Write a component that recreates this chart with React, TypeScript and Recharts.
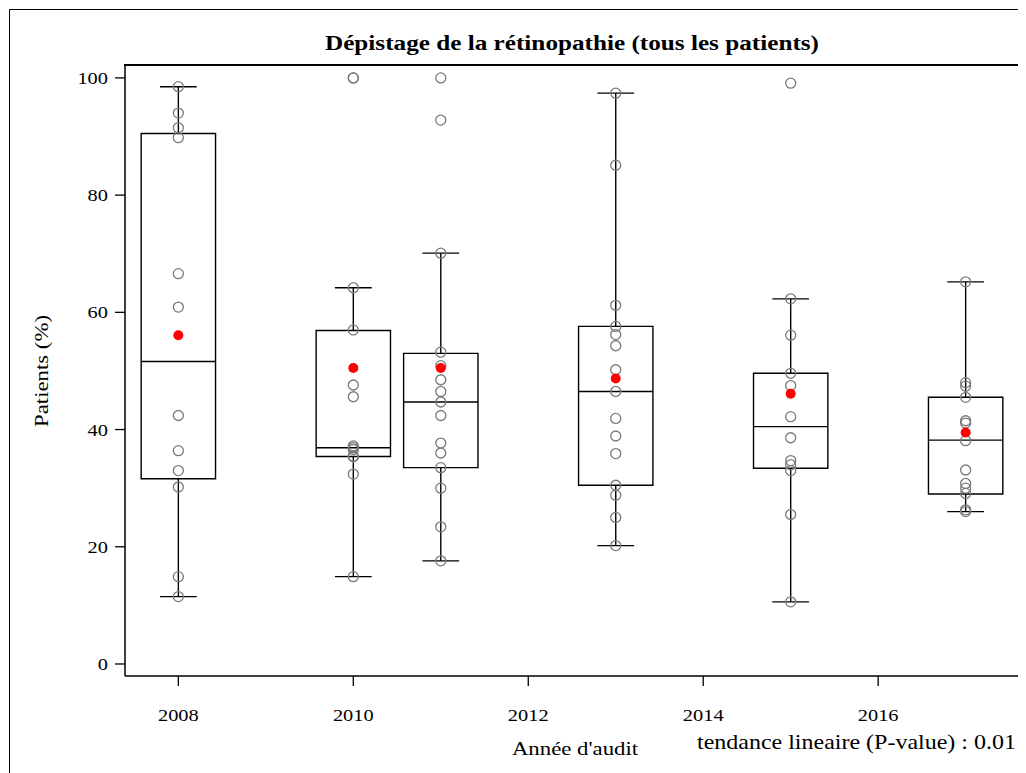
import React from 'react';
import {
  ComposedChart,
  XAxis,
  YAxis,
  Scatter,
  ReferenceArea,
  ReferenceLine,
} from 'recharts';

// Audit years that have a box
const years = [2008, 2010, 2011, 2013, 2015, 2017];

// Individual centre values (% of patients screened) per audit year
const pts2008 = [98.5, 94.0, 91.5, 89.8, 66.6, 60.9, 42.4, 36.4, 33.0, 30.2, 14.9, 11.5];
const pts2010 = [100, 100, 64.2, 57.0, 47.6, 45.6, 37.2, 36.9, 36.6, 35.4, 35.4, 32.4, 14.9];
const pts2011 = [100, 92.8, 70.1, 53.2, 50.9, 48.5, 46.5, 44.7, 42.4, 37.7, 36.0, 33.5, 30.0, 23.4, 17.6];
const pts2013 = [97.4, 85.1, 61.2, 57.6, 56.2, 54.3, 50.2, 46.5, 41.9, 38.9, 35.9, 30.5, 28.8, 25.0, 20.2];
const pts2015 = [99.1, 62.3, 56.1, 49.6, 47.5, 42.2, 38.6, 34.7, 34.0, 33.0, 25.5, 10.6];
const pts2017 = [65.2, 48.0, 47.4, 45.5, 41.5, 41.1, 38.1, 33.1, 30.8, 30.0, 29.1, 26.3, 26.0];
const pointsByYear = [pts2008, pts2010, pts2011, pts2013, pts2015, pts2017];

// Box statistics per year
const q1 = [31.6, 35.4, 33.5, 30.5, 33.4, 29.0];
const medians = [51.6, 36.9, 44.7, 46.5, 40.5, 38.2];
const q3 = [90.5, 56.9, 53.0, 57.6, 49.6, 45.5];
const whiskerLow = [11.5, 14.9, 17.6, 20.2, 10.6, 26.0];
const whiskerHigh = [98.5, 64.2, 70.1, 97.4, 62.3, 65.2];
const means = [56.1, 50.5, 50.5, 48.7, 46.1, 39.5];

// Axis ticks
const xTicks = [2008, 2010, 2012, 2014, 2016];
const yTicks = [0, 20, 40, 60, 80, 100];

const X_DOMAIN: [number, number] = [2007.39, 2017.61];
const Y_DOMAIN: [number, number] = [-2.05, 102.2];
const BOX_HALF = 0.425;
const CAP_HALF = 0.21;
const STRETCH = 1.2;

// Chart geometry
const CHART_W = 1018;
const CHART_H = 765;
const MARGIN = { top: 57, right: 7, bottom: 0, left: 0 };
const Y_AXIS_W = 117;
const X_AXIS_H = 97;
const PLOT = {
  left: MARGIN.left + Y_AXIS_W,
  top: MARGIN.top,
  right: CHART_W - MARGIN.right,
  bottom: CHART_H - X_AXIS_H - MARGIN.bottom,
};
const FRAME_W = 1.5;

const FONT = '"Liberation Serif", "Times New Roman", Times, serif';

const pointData = years.flatMap((year, i) =>
  pointsByYear[i].map((v) => ({ x: year, y: v }))
);
const meanData = years.map((year, i) => ({ x: year, y: means[i] }));

const XTick = (props: any) => {
  const { x, y, payload } = props;
  return (
    <text
      transform={`translate(${x},${y + 33}) scale(${STRETCH},1)`}
      textAnchor="middle"
      fontFamily={FONT}
      fontSize={17}
      fill="#000"
    >
      {payload.value}
    </text>
  );
};

const YTick = (props: any) => {
  const { x, y, payload } = props;
  return (
    <text
      transform={`translate(${x - 5},${y + 6}) scale(${STRETCH},1)`}
      textAnchor="end"
      fontFamily={FONT}
      fontSize={17}
      fill="#000"
    >
      {payload.value}
    </text>
  );
};

const HollowPoint = (props: any) => (
  <circle cx={props.cx} cy={props.cy} r={5} fill="none" stroke="#7a7a7a" strokeWidth={1.3} />
);

const MeanPoint = (props: any) => (
  <circle cx={props.cx} cy={props.cy} r={5} fill="#ff0000" stroke="none" />
);

const LINE = { stroke: '#000', strokeWidth: 1.4 };

export default function App() {
  const boxParts = years.flatMap((year, i) => [
    <ReferenceArea
      key={`box-${year}`}
      x1={year - BOX_HALF}
      x2={year + BOX_HALF}
      y1={q1[i]}
      y2={q3[i]}
      fill="none"
      fillOpacity={0}
      {...LINE}
    />,
    <ReferenceLine
      key={`med-${year}`}
      segment={[{ x: year - BOX_HALF, y: medians[i] }, { x: year + BOX_HALF, y: medians[i] }]}
      {...LINE}
    />,
    <ReferenceLine
      key={`wh-${year}`}
      segment={[{ x: year, y: q3[i] }, { x: year, y: whiskerHigh[i] }]}
      {...LINE}
    />,
    <ReferenceLine
      key={`wl-${year}`}
      segment={[{ x: year, y: q1[i] }, { x: year, y: whiskerLow[i] }]}
      {...LINE}
    />,
    <ReferenceLine
      key={`ch-${year}`}
      segment={[{ x: year - CAP_HALF, y: whiskerHigh[i] }, { x: year + CAP_HALF, y: whiskerHigh[i] }]}
      {...LINE}
    />,
    <ReferenceLine
      key={`cl-${year}`}
      segment={[{ x: year - CAP_HALF, y: whiskerLow[i] }, { x: year + CAP_HALF, y: whiskerLow[i] }]}
      {...LINE}
    />,
  ]);

  return (
    <div style={{ position: 'relative', width: CHART_W, height: CHART_H, background: '#fff' }}>
      {/* keep the page free of scrollbars */}
      <style>{'html, body { overflow: hidden; }'}</style>
      <div style={{ position: 'absolute', left: 0, top: 0 }}>
        <ComposedChart width={CHART_W} height={CHART_H} margin={MARGIN}>
          <XAxis
            dataKey="x"
            type="number"
            domain={X_DOMAIN}
            allowDataOverflow
            ticks={xTicks}
            tickSize={10}
            height={X_AXIS_H}
            axisLine={{ stroke: '#000', strokeWidth: FRAME_W }}
            tickLine={{ stroke: '#000', strokeWidth: 1.3 }}
            tick={<XTick />}
            interval={0}
          />
          <YAxis
            dataKey="y"
            type="number"
            domain={Y_DOMAIN}
            allowDataOverflow
            ticks={yTicks}
            tickSize={10}
            width={Y_AXIS_W}
            axisLine={{ stroke: '#000', strokeWidth: FRAME_W }}
            tickLine={{ stroke: '#000', strokeWidth: 1.3 }}
            tick={<YTick />}
            interval={0}
          />
          {boxParts}
          <Scatter data={pointData} dataKey="y" shape={<HollowPoint />} isAnimationActive={false} />
          <Scatter data={meanData} dataKey="y" shape={<MeanPoint />} isAnimationActive={false} />
        </ComposedChart>
      </div>
      <svg
        width={CHART_W}
        height={CHART_H}
        style={{ position: 'absolute', left: 0, top: 0, pointerEvents: 'none' }}
      >
        {/* page border (left and top) */}
        <path d={`M1.5,${CHART_H} L1.5,1.5 L${CHART_W},1.5`} fill="none" stroke="#000" strokeWidth={1} />
        {/* plot frame: top and right sides */}
        <path
          d={`M${PLOT.left},${PLOT.top} L${PLOT.right},${PLOT.top} L${PLOT.right},${PLOT.bottom}`}
          fill="none"
          stroke="#000"
          strokeWidth={2}
          strokeLinecap="square"
        />
        <text
          transform={`translate(564,42) scale(${STRETCH},1)`}
          textAnchor="middle"
          fontFamily={FONT}
          fontWeight="bold"
          fontSize={21}
          fill="#000"
        >
          Dépistage de la rétinopathie (tous les patients)
        </text>
        <text
          transform={`translate(40,363) rotate(-90) scale(${STRETCH},1)`}
          textAnchor="middle"
          fontFamily={FONT}
          fontSize={19}
          fill="#000"
        >
          Patients (%)
        </text>
        <text
          transform={`translate(567,747) scale(${STRETCH},1)`}
          textAnchor="middle"
          fontFamily={FONT}
          fontSize={19}
          fill="#000"
        >
          Année d'audit
        </text>
        <text
          transform={`translate(1008,741) scale(${STRETCH},1)`}
          textAnchor="end"
          fontFamily={FONT}
          fontSize={20}
          fill="#000"
        >
          tendance lineaire (P-value) : 0.01
        </text>
      </svg>
    </div>
  );
}
